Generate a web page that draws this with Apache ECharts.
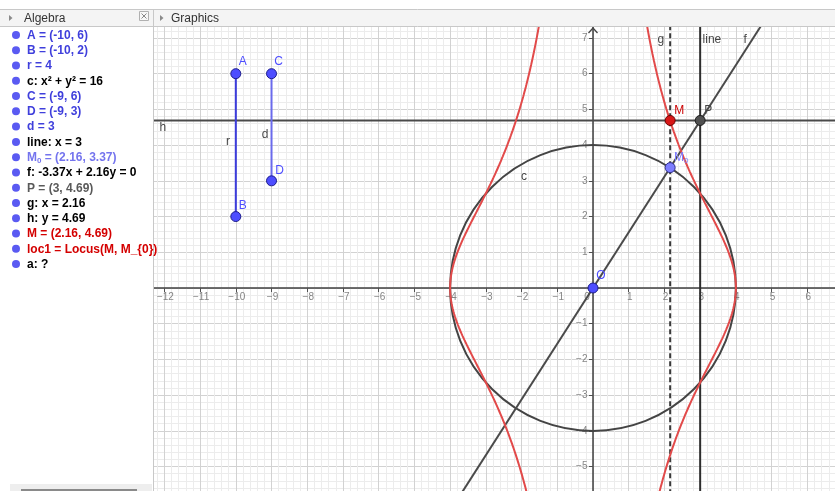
<!DOCTYPE html>
<html>
<head>
<meta charset="utf-8">
<title>Locus</title>
<script src="https://cdn.jsdelivr.net/npm/echarts@6.0.0/dist/echarts.min.js"></script>
<style>
html,body{margin:0;padding:0;background:#fff;overflow:hidden;}
#chart{width:835px;height:491px;}
</style>
</head>
<body>
<div id="chart"></div>
<script>
// ===================== data =====================
const algebraText = [
  'A = (-10, 6)', 'B = (-10, 2)', 'r = 4', 'c: x\u00B2 + y\u00B2 = 16',
  'C = (-9, 6)', 'D = (-9, 3)', 'd = 3', 'line: x = 3',
  'M\u2080 = (2.16, 3.37)', 'f: -3.37x + 2.16y = 0', 'P = (3, 4.69)',
  'g: x = 2.16', 'h: y = 4.69', 'M = (2.16, 4.69)',
  'loc1 = Locus(M, M_{0})', 'a: ?'
];
const algebraKind = [
  'pt', 'pt', 'num', 'plain', 'pt', 'pt', 'num', 'plain',
  'onPath', 'plain', 'inter', 'plain', 'plain', 'red', 'red', 'plain'
];

const pointNames = ['A', 'B', 'C', 'D', 'O', 'M0', 'P', 'M'];
const pointX     = [-10, -10, -9, -9, 0, 2.16, 3, 2.16];
const pointY     = [6, 2, 6, 3, 0, 3.37, 4.69, 4.69];

const segmentFrom = ['A', 'C'];
const segmentTo   = ['B', 'D'];

const circleR = 4;        // c: x² + y² = 16
const lineX   = 3;        // line: x = 3
const gX      = 2.16;     // g: x = 2.16
const hY      = 4.69;     // h: y = 4.69
const fThrough = 'M0';    // f passes through O and M0

const xTickValues = [-12, -11, -10, -9, -8, -7, -6, -5, -4, -3, -2, -1, 0, 1, 2, 3, 4, 5, 6];
const yTickValues = [-5, -4, -3, -2, -1, 1, 2, 3, 4, 5, 6, 7];

const objLabelText = ['h', 'g', 'line', 'f', 'c', 'r', 'd'];
const objLabelX    = [-12.04, 1.90, 3.33, 4.26, -1.93, -10.22, -9.18];
const objLabelY    = [4.48, 6.94, 6.94, 6.94, 3.11, 4.09, 4.28];

// ===================== layout / style =====================
const U = 35.72;             // pixels per unit
const OX = 593, OY = 288;    // pixel of the origin
const xMin = -13, xMax = 7, yMin = -6, yMax = 8;
const headerBottom = 27;
const viewTop = (OY - headerBottom - 1) / U;
const FONT = "'Liberation Sans', Arial, sans-serif";

const P = n => { const i = pointNames.indexOf(n); return [pointX[i], pointY[i]]; };

const pointStyle = {
  A:  { fill: '#4d4dff', stroke: '#1e1e8c', text: '#4d4dff', off: [7, -12] },
  B:  { fill: '#4d4dff', stroke: '#1e1e8c', text: '#4d4dff', off: [7, -11] },
  C:  { fill: '#4d4dff', stroke: '#1e1e8c', text: '#4d4dff', off: [7, -12] },
  D:  { fill: '#4d4dff', stroke: '#1e1e8c', text: '#4d4dff', off: [8, -10] },
  O:  { fill: '#4d4dff', stroke: '#1e1e8c', text: '#4d4dff', off: [8, -12] },
  M0: { fill: '#7d7dff', stroke: '#30308c', text: '#7d7dff', off: [11, -10] },
  P:  { fill: '#505050', stroke: '#1a1a1a', text: '#444444', off: [8, -10] },
  M:  { fill: '#d81818', stroke: '#6a0000', text: '#cc0000', off: [9, -10] }
};
const segColor = ['#3c3cdc', '#6a6aec'];
const kindColor = { pt: '#3f3fdc', num: '#3f3fdc', plain: '#000000', onPath: '#7474ee', inter: '#5a5a5a', red: '#d40000' };

// locus of M while M0 runs over circle c
function locusBranch(sign) {
  const pts = [];
  const N = 1200;
  for (let i = 1; i < N; i++) {
    const th = -Math.PI / 2 + Math.PI * i / N;
    const m0x = sign * circleR * Math.cos(th);
    const m0y = circleR * Math.sin(th);
    const y = lineX * m0y / m0x;        // P = (lineX, lineX*m0y/m0x), M = (m0x, P.y)
    if (Math.abs(y) > yMax + 2) continue;
    pts.push([m0x, y]);
  }
  return pts;
}

const m0 = P(fThrough);
const slope = m0[1] / m0[0];

function lineSeries(data, color, width, type, z) {
  return {
    type: 'line', data: data, symbol: 'none', showSymbol: false, silent: true,
    lineStyle: { color: color, width: width, type: type || 'solid' }, z: z || 2, animation: false
  };
}

const series = [];
// circle c
series.push({
  type: 'custom', silent: true, z: 2, data: [[0, 0]], encode: { x: 0, y: 1 },
  renderItem: function (params, api) {
    const c = api.coord([api.value(0), api.value(1)]);
    const s = api.size([circleR, circleR]);
    return { type: 'circle', shape: { cx: c[0], cy: c[1], r: s[0] },
      style: { fill: 'none', stroke: '#444444', lineWidth: 2 } };
  }
});
// h, g, line, f
series.push(lineSeries([[xMin, hY], [xMax, hY]], '#4a4a4a', 2));
series.push(lineSeries([[gX, yMin], [gX, yMax]], '#3a3a3a', 2, [5, 3]));
series.push(lineSeries([[lineX, yMin], [lineX, yMax]], '#2e2e2e', 2));
series.push(lineSeries([[yMin / slope, yMin], [yMax / slope, yMax]], '#4a4a4a', 2));
// segments
segmentFrom.forEach((a, i) => series.push(lineSeries([P(a), P(segmentTo[i])], segColor[i], 2, 'solid', 3)));
// locus
series.push(lineSeries(locusBranch(1), '#e24a4a', 2, 'solid', 4));
series.push(lineSeries(locusBranch(-1), '#e24a4a', 2, 'solid', 4));
// y axis arrow
series.push({
  type: 'custom', silent: true, z: 5, data: [[0, viewTop]], encode: { x: 0, y: 1 },
  renderItem: function (params, api) {
    const c = api.coord([api.value(0), api.value(1)]);
    return { type: 'polyline', shape: { points: [[c[0] - 4.5, c[1] + 5], [c[0], c[1]], [c[0] + 4.5, c[1] + 5]] },
      style: { fill: 'none', stroke: '#444444', lineWidth: 1.3 } };
  }
});
// axis tick labels (drawn at the axes through the scales)
const tickLabelStyle = { color: '#666666', fontSize: 10, fontFamily: FONT, textBorderWidth: 0 };
series.push({
  type: 'scatter', silent: true, z: 1, symbolSize: 1, itemStyle: { color: 'rgba(0,0,0,0)' },
  data: xTickValues.map(v => ({ value: [v, 0], label: { offset: v === 0 ? [-6, 9] : [1, 9] } })),
  label: Object.assign({ show: true, position: 'inside',
    formatter: p => String(p.value[0]).replace('-', '\u2212') }, tickLabelStyle)
});
series.push({
  type: 'scatter', silent: true, z: 1, symbolSize: 1, itemStyle: { color: 'rgba(0,0,0,0)' },
  data: yTickValues.map(v => [0, v]),
  label: Object.assign({ show: true, position: 'left', distance: 5,
    formatter: p => String(p.value[1]).replace('-', '\u2212') }, tickLabelStyle)
});
// object labels
series.push({
  type: 'scatter', silent: true, z: 6, symbolSize: 1,
  itemStyle: { color: 'rgba(0,0,0,0)' },
  data: objLabelText.map((t, i) => ({ value: [objLabelX[i], objLabelY[i]], name: t })),
  label: { show: true, position: 'inside', formatter: '{b}', color: '#111', fontSize: 12,
    fontFamily: FONT, textBorderWidth: 0 }
});
// points
series.push({
  type: 'scatter', silent: true, z: 8, symbol: 'circle', symbolSize: 10,
  data: pointNames.map((n, i) => {
    const st = pointStyle[n];
    return {
      value: [pointX[i], pointY[i]], name: n,
      itemStyle: { color: st.fill, borderColor: st.stroke, borderWidth: 1, opacity: 1 },
      label: {
        show: true, position: 'inside', offset: st.off, color: st.text, fontSize: 12,
        fontFamily: FONT, textBorderWidth: 0,
        formatter: n === 'M0' ? '{m|M}{s|0}' : n,
        rich: { m: { fontSize: 12, color: st.text, fontFamily: FONT },
                s: { fontSize: 8, color: st.text, fontFamily: FONT, padding: [6, 0, 0, 0] } }
      }
    };
  })
});

// ===================== overlay panels =====================
const Z = 100;
const gfx = [];
gfx.push({ type: 'rect', z: Z, shape: { x: 0, y: 0, width: 154, height: 491 }, style: { fill: '#ffffff' } });
gfx.push({ type: 'rect', z: Z, shape: { x: 0, y: 0, width: 835, height: 9.5 }, style: { fill: '#ffffff' } });
gfx.push({ type: 'rect', z: Z + 1, shape: { x: -1, y: 9.5, width: 837, height: 17 }, style: { fill: '#f4f4f4', stroke: '#c8c8c8', lineWidth: 1 } });
gfx.push({ type: 'line', z: Z + 2, shape: { x1: 153.5, y1: 9.5, x2: 153.5, y2: 491 }, style: { stroke: '#c8c8c8', lineWidth: 1 } });
// header triangles
[9, 160].forEach(x => gfx.push({ type: 'polygon', z: Z + 2, shape: { points: [[x, 15], [x + 3.5, 18], [x, 21]] }, style: { fill: '#8a8a8a' } }));
gfx.push({ type: 'text', z: Z + 2, x: 24, y: 18.5, style: { text: 'Algebra', font: '12px ' + FONT, fill: '#333333', verticalAlign: 'middle', textVerticalAlign: 'middle' } });
gfx.push({ type: 'text', z: Z + 2, x: 171, y: 18.5, style: { text: 'Graphics', font: '12px ' + FONT, fill: '#333333', verticalAlign: 'middle', textVerticalAlign: 'middle' } });
// close box
gfx.push({ type: 'rect', z: Z + 2, shape: { x: 139.5, y: 11.5, width: 9, height: 9 }, style: { fill: '#f8f8f8', stroke: '#b0b0b0', lineWidth: 1 } });
gfx.push({ type: 'line', z: Z + 3, shape: { x1: 141.5, y1: 13.5, x2: 146.5, y2: 18.5 }, style: { stroke: '#888', lineWidth: 1 } });
gfx.push({ type: 'line', z: Z + 3, shape: { x1: 146.5, y1: 13.5, x2: 141.5, y2: 18.5 }, style: { stroke: '#888', lineWidth: 1 } });
// algebra list
algebraText.forEach((t, i) => {
  const y = 35 + i * 15.27;
  gfx.push({ type: 'circle', z: Z + 2, shape: { cx: 16, cy: y, r: 4 }, style: { fill: '#5a5af2' } });
  const col = kindColor[algebraKind[i]];
  let txt = t, rich = undefined;
  if (t.indexOf('\u2080') >= 0) {
    const parts = t.split('\u2080');
    txt = '{b|' + parts[0] + '}{s|0}{b|' + parts[1] + '}';
    rich = { b: { font: 'bold 12px ' + FONT, fill: col }, s: { font: 'bold 8px ' + FONT, fill: col, padding: [6, 0, 0, 0] } };
  }
  gfx.push({ type: 'text', z: Z + 2, x: 27, y: y + 0.5,
    style: { text: txt, rich: rich, font: 'bold 12px ' + FONT, fill: col, verticalAlign: 'middle', textVerticalAlign: 'middle' } });
});
// scrollbar
gfx.push({ type: 'rect', z: Z + 2, shape: { x: 10, y: 484, width: 142, height: 7 }, style: { fill: '#eeeeee' } });
gfx.push({ type: 'rect', z: Z + 3, shape: { x: 21, y: 489, width: 116, height: 3 }, style: { fill: '#8a8a8a' } });

// ===================== chart =====================
const chart = echarts.init(document.getElementById('chart'), null, { renderer: 'canvas' });
const axisCommon = {
  type: 'value', interval: 1,
  axisLine: { onZero: true, lineStyle: { color: '#404040', width: 1.5 } },
  axisTick: { show: true, length: 4, lineStyle: { color: '#505050' } },
  minorTick: { show: false, splitNumber: 5 },
  splitLine: { show: true, lineStyle: { color: '#d2d2d2', width: 1 } },
  minorSplitLine: { show: true, lineStyle: { color: '#ececec', width: 1 } },
  axisLabel: { show: false }
};
chart.setOption({
  animation: false,
  backgroundColor: '#ffffff',
  grid: {
    left: OX + xMin * U, top: OY - yMax * U,
    width: (xMax - xMin) * U, height: (yMax - yMin) * U,
    containLabel: false, outerBoundsMode: 'none', show: false
  },
  xAxis: Object.assign({ min: xMin, max: xMax }, axisCommon),
  yAxis: Object.assign({ min: yMin, max: yMax }, axisCommon),
  series: series,
  graphic: gfx
});
</script>
</body>
</html>
